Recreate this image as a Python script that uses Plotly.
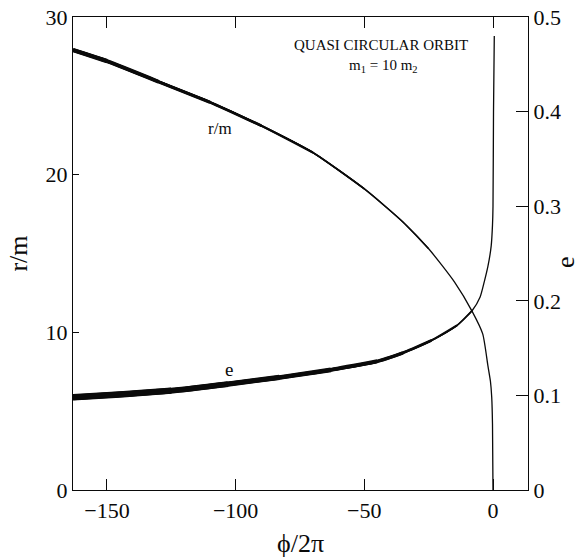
import plotly.graph_objects as go

# orbital phase (in units of 2*pi) and separation r/m
phi_r = [-163.2, -150, -130, -110, -90, -70, -50, -35, -25, -15, -8, -4, -2, -1, -0.5, -0.2, 0.0]
r_m = [27.9, 27.2, 25.9, 24.6, 23.1, 21.4, 19.1, 17.0, 15.3, 13.2, 11.3, 9.9, 7.9, 6.9, 5.9, 4.2, 0.0]

# orbital phase and eccentricity e
phi_e = [-163.2, -145, -125, -103, -83, -63, -45, -35, -24, -14, -8, -5, -3.4, -2, -0.7, -0.2, 0.0, 0.2, 0.5]
ecc = [0.098, 0.101, 0.105, 0.112, 0.119, 0.127, 0.136, 0.145, 0.158, 0.174, 0.190, 0.204, 0.220, 0.236, 0.258, 0.28, 0.30, 0.40, 0.48]

x_ticks = [-150, -100, -50, 0]
r_ticks = [0, 10, 20, 30]
e_ticks = [0, 0.1, 0.2, 0.3, 0.4, 0.5]

# the early, wiggly part of each curve is drawn as a heavier band
r_bands = [(1.3, 1.0), (1.5, -25), (1.8, -50), (2.2, -70), (2.7, -90), (3.2, -110), (3.8, -130), (4.3, -150)]
e_bands = [(1.3, 1.0), (1.7, -8), (2.2, -14), (2.8, -24), (3.4, -35), (4.0, -45), (4.6, -63), (5.2, -83), (5.8, -103), (6.4, -125)]

INK = "#0a0a0a"
SERIF = "Liberation Serif, Times New Roman, serif"

W, H = 586, 560
ML, MR, MT, MB = 73, 58, 17, 70
plot_w = W - ML - MR
plot_h = H - MT - MB


def px_to_paper(px, py):
    return (px - ML) / plot_w, 1 - (py - MT) / plot_h


fig = go.Figure()

for width, upto in r_bands:
    xs = [p for p in phi_r if p <= upto]
    ys = [v for p, v in zip(phi_r, r_m) if p <= upto]
    fig.add_trace(go.Scatter(x=xs, y=ys, mode="lines", yaxis="y",
                             line=dict(color=INK, width=width, shape="spline", smoothing=0.6),
                             showlegend=False, hoverinfo="skip"))

for width, upto in e_bands:
    xs = [p for p in phi_e if p <= upto]
    ys = [v for p, v in zip(phi_e, ecc) if p <= upto]
    fig.add_trace(go.Scatter(x=xs, y=ys, mode="lines", yaxis="y2",
                             line=dict(color=INK, width=width, shape="spline", smoothing=0.6),
                             showlegend=False, hoverinfo="skip"))

axis_common = dict(showgrid=False, zeroline=False, showline=True, linecolor=INK,
                   linewidth=1.4, ticks="inside", tickcolor=INK, tickwidth=1.2,
                   automargin=False,
                   tickfont=dict(family=SERIF, size=22, color=INK))

title_font = dict(family=SERIF, size=26, color=INK)

hx1, hy1 = px_to_paper(381, 45)
hx2, hy2 = px_to_paper(383, 66)
ex, ey = px_to_paper(565, 262)

fig.update_layout(
    width=W, height=H,
    margin=dict(l=ML, r=MR, t=MT, b=MB),
    paper_bgcolor="white", plot_bgcolor="white",
    xaxis=dict(range=[-163.2, 13.6], tickvals=x_ticks, ticklen=11, mirror="ticks",
               title=dict(text="ϕ/2π", font=title_font, standoff=12),
               **axis_common),
    yaxis=dict(range=[0, 30], tickvals=r_ticks, ticklen=6,
               title=dict(text="r/m", font=title_font, standoff=10),
               **axis_common),
    yaxis2=dict(range=[0, 0.5], tickvals=e_ticks, ticklen=12, overlaying="y", side="right",
                **axis_common),
    annotations=[
        dict(text="e", x=ex, y=ey, xref="paper", yref="paper", textangle=-90,
             xanchor="center", yanchor="middle", showarrow=False, font=title_font),
        dict(text="QUASI CIRCULAR ORBIT", x=hx1, y=hy1, xref="paper", yref="paper",
             xanchor="center", yanchor="middle",
             showarrow=False, font=dict(family=SERIF, size=15, color=INK)),
        dict(text="m<sub>1</sub> = 10 m<sub>2</sub>", x=hx2, y=hy2, xref="paper", yref="paper",
             xanchor="center", yanchor="middle",
             showarrow=False, font=dict(family=SERIF, size=15, color=INK)),
        dict(text="r/m", x=-106, y=22.9, xref="x", yref="y",
             xanchor="center", yanchor="middle",
             showarrow=False, font=dict(family=SERIF, size=17, color=INK)),
        dict(text="e", x=-102.6, y=0.127, xref="x", yref="y2",
             xanchor="center", yanchor="middle",
             showarrow=False, font=dict(family=SERIF, size=19, color=INK)),
    ],
)

fig.write_html("out.html")
